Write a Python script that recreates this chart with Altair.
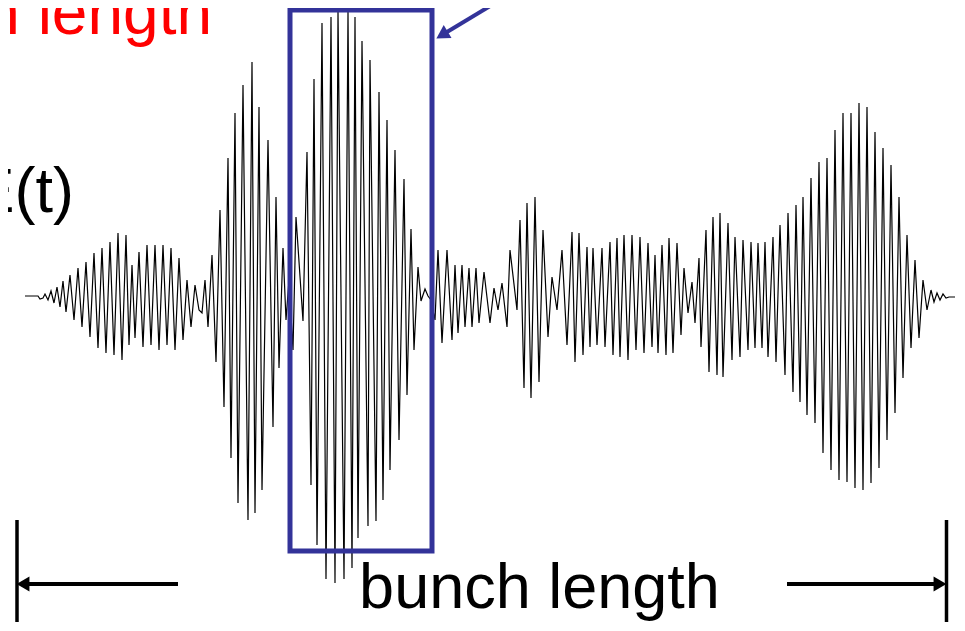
import altair as alt
import pandas as pd

# E(t) trace: successive turning points (time in arb. units)
t = [5, 18, 20, 23, 25, 28, 31, 34, 37, 40, 43, 46, 50, 54, 58, 62, 66, 70, 74, 78,
     82, 86, 90, 94, 98, 102, 106, 109, 112, 115, 119, 123, 127, 131, 135, 139, 143, 147, 151, 155,
     159, 163, 167, 171, 175, 179,
     182, 185, 188, 192, 196, 200, 204, 208, 211, 215, 218, 223, 228, 232, 235, 239, 242, 248, 253, 256,
     259, 263, 266, 269, 273, 276,
     283, 287, 291, 294, 297, 302, 306, 311, 315, 318, 324, 328, 332, 335, 338, 342, 348, 350, 356, 359,
     363, 367, 370, 375, 379, 384, 387, 391, 394, 398, 401, 405,
     408, 411, 415, 418, 422, 427, 432, 435, 438, 442, 445, 449, 452, 456, 459, 464, 470, 474, 478, 482,
     487, 490, 497, 500, 504, 507, 511, 515, 519, 523, 528, 532, 537, 542, 547, 552, 555, 559, 563, 567,
     570, 573, 577, 582, 585, 590, 593, 597, 600, 604, 608, 612, 616, 620, 624, 628, 632, 635, 638, 642,
     646, 649, 653, 657, 661, 664, 668, 672, 675, 679,
     681, 686, 689, 693, 697, 700, 703, 708, 712, 715, 720, 723, 728, 731, 735, 738, 742, 745, 748, 753,
     756, 760, 765, 768, 773, 776, 780, 783, 787, 791, 795, 799, 803, 807, 811, 815, 819, 823, 827, 831,
     835, 839, 843, 847, 851, 855, 859, 863, 867, 871, 875, 879, 883, 887, 891, 895, 899, 903, 907, 911,
     914, 917, 920, 923, 926, 929, 942]
e = [0, 0, -3, -2, 2, -4, 5, -7, 9, -11, 15, -16, 21, -24, 28, -31, 34, -41, 43, -52,
     48, -57, 54, -59, 63, -64, 61, -49, 31, -42, 44, -51, 51, -49, 51, -54, 51, -49, 48, -54,
     38, -44, 16, -31, 11, -14,
     -17, 16, -31, 41, -66, 86, -111, 138, -162, 183, -207, 211, -224, 234, -217, 189, -194, 156, -131, 99,
     -72, 48, -24, 16, -54, 79,
     -25, 144, -189, 217, -249, 273, -283, 279, -287, 285, -283, 285, -272, 279, -242, 255, -230, 236, -225, 204,
     -204, 176, -174, 146, -144, 117, -99, 67, -54, 29, -5, 7,
     0, -4, -24, 46, -47, 46, -44, 31, -37, 31, -31, 28, -31, 28, -27, 24, -27, 8, -14, 13,
     -31, 46, -14, 76, -92, 93, -102, 99, -86, 66, -41, 19, -14, 46, -49, 64, -66, 63, -59, 49,
     -51, 48, -49, 48, -51, 54, -59, 58, -61, 61, -64, 61, -54, 59, -57, 53, -51, 41, -57, 51,
     -59, 58, -57, 53, -39, 28, -17, 14, -27, 38,
     -51, 66, -76, 79, -79, 83, -81, 73, -64, 59, -61, 56, -54, 54, -52, 53, -52, 54, -61, 59,
     -66, 71, -79, 83, -96, 91, -106, 99, -119, 118, -127, 134, -157, 138, -174, 166, -184, 183, -186, 183,
     -192, 193, -194, 189, -187, 164, -172, 148, -144, 131, -117, 99, -82, 61, -52, 36, -42, 16, -14, 6,
     -6, 3, -4, 2, -2, -1, -1]

# annotation positions, in the same units as the trace
box_t = [270, 412]
box_e = [286, -255]
bar_t = [-3, 926.5]
bar_e = [-224, -340]
arrow_e = -288
left_arrow_t = [3, 158]
right_arrow_t = [767, 920]
pointer_t = [422, 505]
pointer_e = [261, 311]

BLUE = "#333399"
FONT = "Liberation Sans"

xs = alt.Scale(domain=[-12, 935], nice=False, zero=False)
ys = alt.Scale(domain=[-326, 288], nice=False, zero=False)

wave = pd.DataFrame({"t": t, "E": e, "i": range(len(t))})

trace = alt.Chart(wave).mark_line(color="black", strokeWidth=1.2).encode(
    x=alt.X("t:Q", scale=xs, axis=None),
    y=alt.Y("E:Q", scale=ys, axis=None),
    order="i:O",
)

box = alt.Chart(pd.DataFrame({"t0": [box_t[0]], "t1": [box_t[1]], "e0": [box_e[0]], "e1": [box_e[1]]})).mark_rect(
    fillOpacity=0, stroke=BLUE, strokeWidth=5
).encode(
    x=alt.X("t0:Q", scale=xs, axis=None), x2="t1:Q",
    y=alt.Y("e0:Q", scale=ys, axis=None), y2="e1:Q",
)

# blue pointer leaving the box towards the top right
pointer = alt.Chart(pd.DataFrame({"t0": [pointer_t[0]], "t1": [pointer_t[1]],
                                  "e0": [pointer_e[0]], "e1": [pointer_e[1]]})).mark_rule(
    color=BLUE, strokeWidth=4
).encode(
    x=alt.X("t0:Q", scale=xs, axis=None), x2="t1:Q",
    y=alt.Y("e0:Q", scale=ys, axis=None), y2="e1:Q",
)
pointer_head = alt.Chart(pd.DataFrame({"t": [pointer_t[0]], "E": [pointer_e[0]]})).mark_point(
    shape="triangle-up", angle=239, size=230, filled=True, color=BLUE, opacity=1
).encode(
    x=alt.X("t:Q", scale=xs, axis=None),
    y=alt.Y("E:Q", scale=ys, axis=None),
)

# bunch length marker
bars = alt.Chart(pd.DataFrame({"t": bar_t, "top": [bar_e[0]] * 2, "bot": [bar_e[1]] * 2})).mark_rule(
    color="black", strokeWidth=3.5
).encode(
    x=alt.X("t:Q", scale=xs, axis=None),
    y=alt.Y("top:Q", scale=ys, axis=None), y2="bot:Q",
)
shafts = alt.Chart(pd.DataFrame({"t0": [left_arrow_t[0], right_arrow_t[0]],
                                 "t1": [left_arrow_t[1], right_arrow_t[1]],
                                 "E": [arrow_e, arrow_e]})).mark_rule(
    color="black", strokeWidth=4
).encode(
    x=alt.X("t0:Q", scale=xs, axis=None), x2="t1:Q",
    y=alt.Y("E:Q", scale=ys, axis=None),
)
head_l = alt.Chart(pd.DataFrame({"t": [left_arrow_t[0]], "E": [arrow_e]})).mark_point(
    shape="triangle-left", size=220, filled=True, color="black", opacity=1
).encode(x=alt.X("t:Q", scale=xs, axis=None), y=alt.Y("E:Q", scale=ys, axis=None))
head_r = alt.Chart(pd.DataFrame({"t": [right_arrow_t[1]], "E": [arrow_e]})).mark_point(
    shape="triangle-right", size=220, filled=True, color="black", opacity=1
).encode(x=alt.X("t:Q", scale=xs, axis=None), y=alt.Y("E:Q", scale=ys, axis=None))

bunch_label = alt.Chart(pd.DataFrame({"t": [519.5], "E": [-312], "s": ["bunch length"]})).mark_text(
    font=FONT, fontSize=63, color="black", align="center", baseline="alphabetic"
).encode(x=alt.X("t:Q", scale=xs, axis=None), y=alt.Y("E:Q", scale=ys, axis=None), text="s:N")

e_label = alt.Chart(pd.DataFrame({"t": [54], "E": [84], "s": ["E(t)"]})).mark_text(
    font=FONT, fontSize=63, color="black", align="right", baseline="alphabetic"
).encode(x=alt.X("t:Q", scale=xs, axis=None), y=alt.Y("E:Q", scale=ys, axis=None), text="s:N")

red_label = alt.Chart(pd.DataFrame({"t": [192], "E": [262], "s": ["bunch length"]})).mark_text(
    font=FONT, fontSize=64, color="#ff0000", align="right", baseline="alphabetic"
).encode(x=alt.X("t:Q", scale=xs, axis=None), y=alt.Y("E:Q", scale=ys, axis=None), text="s:N")

chart = alt.layer(
    trace, box, pointer, pointer_head, bars, shafts, head_l, head_r, bunch_label, e_label, red_label
).properties(
    width=947, height=614, padding=0, background="white",
    autosize=alt.AutoSizeParams(type="none"),
).configure_view(stroke="transparent")

chart.save("out.html", embed_options={"renderer": "svg", "actions": False})
